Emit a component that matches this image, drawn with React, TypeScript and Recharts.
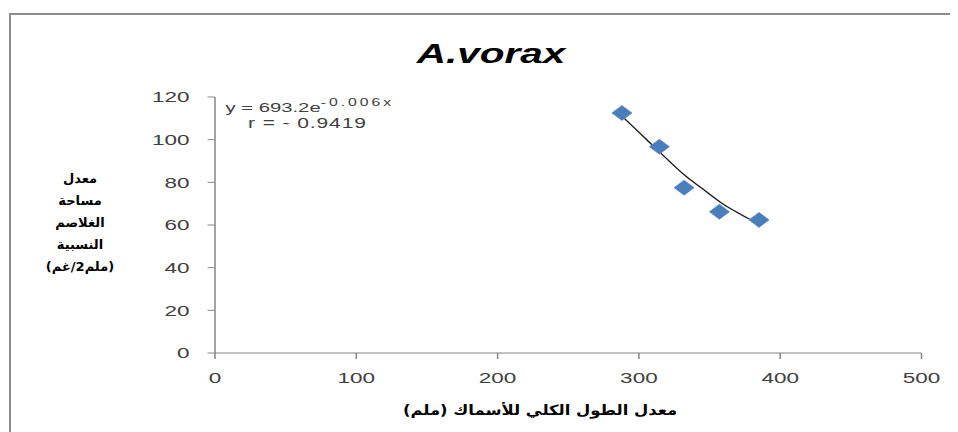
import { ScatterChart, Scatter, XAxis, YAxis } from "recharts";

// fish total length (mm) vs relative gill area (mm2/g)
const lengthMm = [288, 314.5, 332, 357, 385];
const gillArea = [112.5, 96.7, 77.5, 66.2, 62.4];

// exponential trendline
const trendX = [288, 300, 315, 333, 345, 358, 372, 385];
const trendY = [111, 103.5, 94, 83, 77, 70.5, 65, 60.5];

const xTicks = [0, 100, 200, 300, 400, 500];
const yTicks = [0, 20, 40, 60, 80, 100, 120];

const yLabelLines = ["معدل", "مساحة", "الغلاصم", "النسبية", "(ملم2/غم)"];
const xLabel = "معدل الطول الكلي للأسماك (ملم)";

const points = lengthMm.map((x, i) => ({ x, y: gillArea[i] }));
const trend = trendX.map((x, i) => ({ x, y: trendY[i] }));

const W = 632;
const H = 424;
const STRETCH = 1.5;
const AXIS = "#868686";
const TEXT = "#404040";
const SANS = "'Liberation Sans', Arial, sans-serif";
const ARABIC = "'DejaVu Sans', sans-serif";

function Diamond(props: any) {
  const { cx, cy } = props;
  if (cx == null || cy == null) return <g />;
  const w = 6.7;
  const h = 7.5;
  return (
    <polygon
      points={`${cx},${cy - h} ${cx + w},${cy} ${cx},${cy + h} ${cx - w},${cy}`}
      fill="#4a7ebb"
      stroke="#5b8cc8"
      strokeWidth={0.6}
    />
  );
}

const NoDot = () => <g />;

export default function App() {
  const tick = { fill: TEXT, fontSize: 15, fontFamily: SANS };
  return (
    <div style={{ position: "relative", width: W * STRETCH, height: H }}>
      <div
        style={{
          position: "absolute",
          left: 1,
          top: 5,
          width: 949,
          height: 419,
          borderTop: "2px solid #8c8c8c",
          borderLeft: "2px solid #8c8c8c",
          boxSizing: "border-box",
        }}
      />
      <div
        style={{
          position: "absolute",
          left: 0,
          top: 0,
          width: W,
          height: H,
          transform: `scaleX(${STRETCH})`,
          transformOrigin: "0 0",
        }}
      >
        <ScatterChart width={W} height={H} margin={{ top: 89, right: 23, bottom: 49, left: 0 }}>
          <XAxis
            type="number"
            dataKey="x"
            domain={[0, 500]}
            ticks={xTicks}
            height={30}
            tickSize={6}
            tickMargin={13}
            tick={tick}
            axisLine={{ stroke: AXIS }}
            tickLine={{ stroke: AXIS }}
          />
          <YAxis
            type="number"
            dataKey="y"
            domain={[0, 120]}
            ticks={yTicks}
            width={138}
            tickSize={5}
            tickMargin={12}
            tick={tick}
            axisLine={{ stroke: AXIS }}
            tickLine={{ stroke: AXIS }}
          />
          <Scatter
            data={trend}
            line={{ stroke: "#1a1a1a", strokeWidth: 1.1 }}
            lineJointType="monotoneX"
            shape={NoDot}
            isAnimationActive={false}
          />
          <Scatter data={points} shape={Diamond} isAnimationActive={false} />
        </ScatterChart>

        <div
          style={{
            position: "absolute",
            left: 222,
            top: 31,
            width: 200,
            textAlign: "center",
            lineHeight: "30px",
            fontSize: 27,
            fontWeight: "bold",
            fontStyle: "italic",
            fontFamily: SANS,
            color: "#000",
          }}
        >
          A.vorax
        </div>

        <div
          style={{
            position: "absolute",
            left: 145,
            top: 85,
            lineHeight: "18px",
            fontSize: 13.5,
            whiteSpace: "pre",
            fontFamily: SANS,
            color: TEXT,
          }}
        >
          y = 693.2e
          <sup style={{ fontSize: 10.5, letterSpacing: 2 }}>-0.006x</sup>
        </div>
        <div
          style={{
            position: "absolute",
            left: 160,
            top: 106,
            lineHeight: "18px",
            fontSize: 14,
            letterSpacing: 0.6,
            whiteSpace: "pre",
            fontFamily: SANS,
            color: TEXT,
          }}
        >
          {"r = - 0.9419"}
        </div>
      </div>

      <div
        style={{
          position: "absolute",
          left: 24,
          top: 160,
          width: 96,
          textAlign: "center",
          lineHeight: "22px",
          fontSize: 13,
          fontWeight: "bold",
          fontFamily: ARABIC,
          color: "#000",
          direction: "rtl",
        }}
      >
        {yLabelLines.map((l) => (
          <div key={l}>{l}</div>
        ))}
      </div>

      <div
        style={{
          position: "absolute",
          left: 382,
          top: 392,
          width: 300,
          textAlign: "center",
          lineHeight: "20px",
          fontSize: 14,
          fontWeight: "bold",
          fontFamily: ARABIC,
          color: "#000",
          direction: "rtl",
          transform: "scaleX(1.17)",
          transformOrigin: "50% 50%",
        }}
      >
        {xLabel}
      </div>
    </div>
  );
}
